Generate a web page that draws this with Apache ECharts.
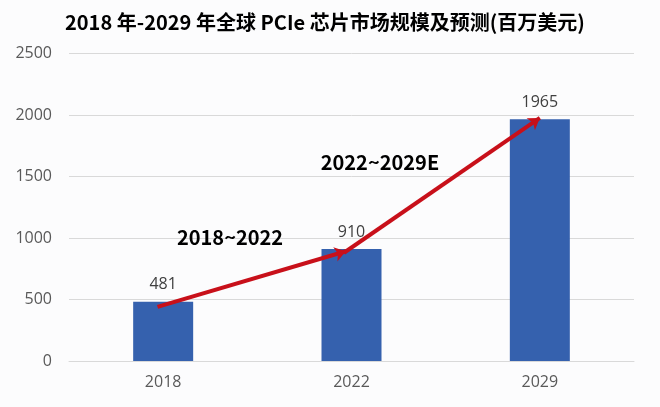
<!DOCTYPE html>
<html>
<head>
<meta charset="utf-8">
<script src="https://cdn.jsdelivr.net/npm/echarts@6/dist/echarts.min.js"></script>
<style>html,body{margin:0;padding:0;background:#fcfcfd;}#c{width:660px;height:407px;}</style>
</head>
<body>
<div id="c"></div>
<script>
var titleText = '2018 年-2029 年全球 PCIe 芯片市场规模及预测(百万美元)';
var categories = ['2018', '2022', '2029'];
var values = [481, 910, 1965];
var yTicks = [0, 500, 1000, 1500, 2000, 2500];
// arrows in data coordinates: [categoryPosition, value]
var arrow1 = [[-0.03, 440], [0.97, 892]];
var arrow2 = [[0.96, 880], [2.0, 1976]];
// annotation labels [categoryPosition, value, text]
var notes = [[0.355, 1008, '2018~2022'], [1.151, 1618, '2022~2029E']];

var chart = echarts.init(document.getElementById('c'));
chart.setOption({
  backgroundColor: '#fcfcfd',
  animation: false,
  title: {
    text: titleText, left: 60, top: 7,
    textStyle: {fontFamily: 'Noto Sans CJK SC', fontWeight: 'bold', fontSize: 20, color: '#000'}
  },
  grid: {left: 69, right: 26, top: 53.5, bottom: 46},
  xAxis: [{
    type: 'category', data: categories,
    axisLine: {lineStyle: {color: '#d9d9d9'}},
    axisTick: {show: false},
    axisLabel: {color: '#595959', fontSize: 16, fontFamily: 'Open Sans', margin: 13}
  }, {
    type: 'value', min: -0.5, max: 2.5, show: false
  }],
  yAxis: {
    type: 'value', min: yTicks[0], max: yTicks[yTicks.length - 1], interval: 500,
    axisLine: {show: false}, axisTick: {show: false},
    splitLine: {lineStyle: {color: '#d9d9d9'}},
    axisLabel: {color: '#595959', fontSize: 16, fontFamily: 'Open Sans', margin: 17,
      formatter: function (v) { return String(v); }}
  },
  series: [{
    type: 'bar', data: values, barWidth: 60,
    itemStyle: {color: '#3561ae'},
    label: {show: true, position: 'top', distance: 9, color: '#404040', fontSize: 16, fontFamily: 'Open Sans'}
  }, {
    type: 'lines', coordinateSystem: 'cartesian2d', xAxisIndex: 1, yAxisIndex: 0,
    symbol: ['none', 'arrow'], symbolSize: 11,
    lineStyle: {color: '#c8101a', width: 4, opacity: 1},
    data: [{coords: arrow1}, {coords: arrow2}],
    z: 5
  }, {
    type: 'scatter', xAxisIndex: 1, yAxisIndex: 0, symbolSize: 0,
    data: notes.map(function (n) { return {value: [n[0], n[1]], name: n[2]}; }),
    itemStyle: {opacity: 1},
    label: {show: true, position: 'inside', formatter: '{b}', color: '#000', opacity: 1,
      textBorderWidth: 0, fontSize: 20, fontWeight: 'bold', fontFamily: 'Noto Sans CJK SC'},
    z: 6
  }]
});
</script>
</body>
</html>
